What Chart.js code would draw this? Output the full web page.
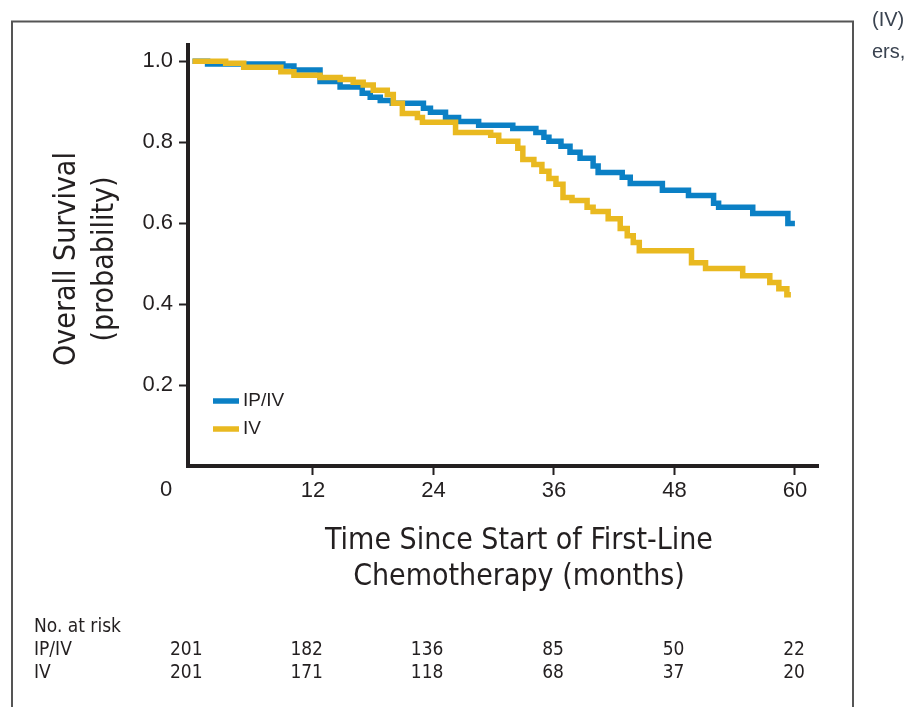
<!DOCTYPE html>
<html>
<head>
<meta charset="utf-8">
<script src="https://cdn.jsdelivr.net/npm/chart.js@4"></script>
<style>
  html, body { margin: 0; padding: 0; background: #fff; }
  canvas { display: block; }
</style>
</head>
<body>
<canvas id="km" width="923" height="707"></canvas>
<script>
  // axis ticks
  const xTicks = [12, 24, 36, 48, 60];
  const yTicks = [0.2, 0.4, 0.6, 0.8, 1.0];

  // Kaplan-Meier steps (months, survival)
  const ipivTimes = [0, 1.5, 9.0, 10.1, 12.7, 14.7, 16.9, 17.7, 18.7, 19.9, 23.0, 23.7, 25.2, 26.5, 28.5, 31.9, 34.2, 35.0, 35.5, 36.7, 37.6, 38.6, 39.9, 40.4, 42.8, 43.6, 46.8, 49.4, 51.9, 52.4, 55.8, 59.3, 60.0];
  const ipivSurv  = [1.0, 0.993, 0.988, 0.978, 0.950, 0.936, 0.921, 0.911, 0.903, 0.896, 0.884, 0.874, 0.861, 0.851, 0.842, 0.834, 0.824, 0.812, 0.802, 0.790, 0.775, 0.760, 0.741, 0.725, 0.713, 0.698, 0.681, 0.668, 0.649, 0.639, 0.624, 0.599, 0.599];

  const ivTimes = [0, 3.3, 5.1, 8.8, 10.1, 12.7, 14.7, 16.0, 17.0, 18.0, 19.4, 20.0, 20.9, 22.4, 22.9, 26.2, 29.7, 30.5, 32.4, 32.9, 34.0, 34.8, 35.5, 36.2, 36.9, 37.8, 39.3, 39.9, 41.4, 42.6, 43.3, 43.9, 44.5, 49.7, 51.1, 54.8, 57.5, 58.4, 59.2, 59.6];
  const ivSurv  = [1.0, 0.995, 0.985, 0.974, 0.965, 0.960, 0.955, 0.948, 0.941, 0.928, 0.918, 0.896, 0.871, 0.861, 0.849, 0.824, 0.817, 0.802, 0.785, 0.757, 0.745, 0.728, 0.710, 0.696, 0.663, 0.656, 0.639, 0.629, 0.611, 0.587, 0.569, 0.552, 0.532, 0.502, 0.488, 0.470, 0.453, 0.438, 0.423, 0.423];

  // number at risk table
  const riskTimes = [0, 12, 24, 36, 48, 60];
  const riskIpiv = [201, 182, 136, 85, 50, 22];
  const riskIv   = [201, 171, 118, 68, 37, 20];

  const BLUE = '#0b80c5';
  const YELLOW = '#e9b920';
  const INK = '#231f20';
  const NARROW = '"DejaVu Sans Condensed", sans-serif';
  const SANS = '"Liberation Sans", Arial, sans-serif';

  const toPoints = (ts, ss) => ts.map((t, i) => ({ x: t, y: ss[i] }));

  const extras = {
    id: 'extras',
    beforeDraw(chart) {
      const ctx = chart.ctx;
      ctx.save();
      ctx.fillStyle = '#fff';
      ctx.fillRect(0, 0, chart.width, chart.height);
      ctx.strokeStyle = '#555';
      ctx.lineWidth = 2;
      ctx.strokeRect(12, 21.5, 841, 720);
      ctx.restore();
    },
    afterDraw(chart) {
      const ctx = chart.ctx;
      const xs = chart.scales.x;
      ctx.save();
      ctx.fillStyle = INK;
      ctx.textBaseline = 'middle';

      // y title, two lines
      ctx.save();
      ctx.translate(67, 259);
      ctx.rotate(-Math.PI / 2);
      ctx.textAlign = 'center';
      ctx.font = '30px ' + NARROW;
      ctx.fillText('Overall Survival', 0, 0);
      ctx.fillText('(probability)', 0, 38);
      ctx.restore();

      // x title
      ctx.textAlign = 'center';
      ctx.font = '30px ' + NARROW;
      ctx.fillText('Time Since Start of First-Line', 519, 541);
      ctx.fillText('Chemotherapy (months)', 519, 577);

      // origin label
      ctx.font = '22px ' + SANS;
      ctx.fillText('0', 166, 490);

      // legend
      const leg = [['IP/IV', BLUE, 401], ['IV', YELLOW, 429]];
      leg.forEach(([name, col, y]) => {
        ctx.strokeStyle = col;
        ctx.lineWidth = 5.5;
        ctx.beginPath();
        ctx.moveTo(213, y);
        ctx.lineTo(239, y);
        ctx.stroke();
        ctx.textAlign = 'left';
        ctx.font = '19px ' + SANS;
        ctx.fillText(name, 243, y);
      });

      // number at risk
      ctx.font = '19px ' + NARROW;
      ctx.textAlign = 'left';
      ctx.fillText('No. at risk', 34, 627);
      ctx.fillText('IP/IV', 34, 650);
      ctx.fillText('IV', 34, 673);
      ctx.textAlign = 'right';
      riskTimes.forEach((t, i) => {
        const px = xs.getPixelForValue(t) + 10;
        ctx.fillText(String(riskIpiv[i]), px, 650);
        ctx.fillText(String(riskIv[i]), px, 673);
      });

      // clipped page text at top right
      ctx.fillStyle = '#3a4350';
      ctx.font = '20px ' + SANS;
      ctx.textAlign = 'left';
      ctx.fillText('(IV)', 872, 20);
      ctx.fillText('ers,', 872, 52);
      ctx.restore();
    }
  };

  new Chart(document.getElementById('km'), {
    type: 'line',
    data: {
      datasets: [
        {
          label: 'IV',
          data: toPoints(ivTimes, ivSurv),
          borderColor: YELLOW,
          borderWidth: 5.5,
          stepped: true,
          pointRadius: 0,
          fill: false
        },
        {
          label: 'IP/IV',
          data: toPoints(ipivTimes, ipivSurv),
          borderColor: BLUE,
          borderWidth: 5.5,
          stepped: true,
          pointRadius: 0,
          fill: false
        }
      ]
    },
    options: {
      responsive: false,
      animation: false,
      layout: { padding: { top: 45, right: 105, left: 0, bottom: 0 } },
      plugins: { legend: { display: false }, tooltip: { enabled: false } },
      scales: {
        x: {
          type: 'linear',
          min: -0.45,
          max: 62.3,
          afterBuildTicks: s => { s.ticks = xTicks.map(v => ({ value: v })); },
          afterFit: s => { s.height = 241; },
          ticks: { color: INK, font: { family: SANS, size: 22 }, padding: 3, maxRotation: 0 },
          grid: { drawOnChartArea: false, tickLength: 9, tickWidth: 2, color: INK },
          border: { display: true, width: 4, color: INK }
        },
        y: {
          min: 0,
          max: 1.04,
          afterBuildTicks: s => { s.ticks = yTicks.map(v => ({ value: v })); },
          afterFit: s => { s.width = 188; },
          ticks: { color: INK, font: { family: SANS, size: 22 }, padding: 6, callback: v => v.toFixed(1) },
          grid: { drawOnChartArea: false, tickLength: 9, tickWidth: 2, color: INK },
          border: { display: true, width: 4, color: INK }
        }
      }
    },
    plugins: [extras]
  });
</script>
</body>
</html>
